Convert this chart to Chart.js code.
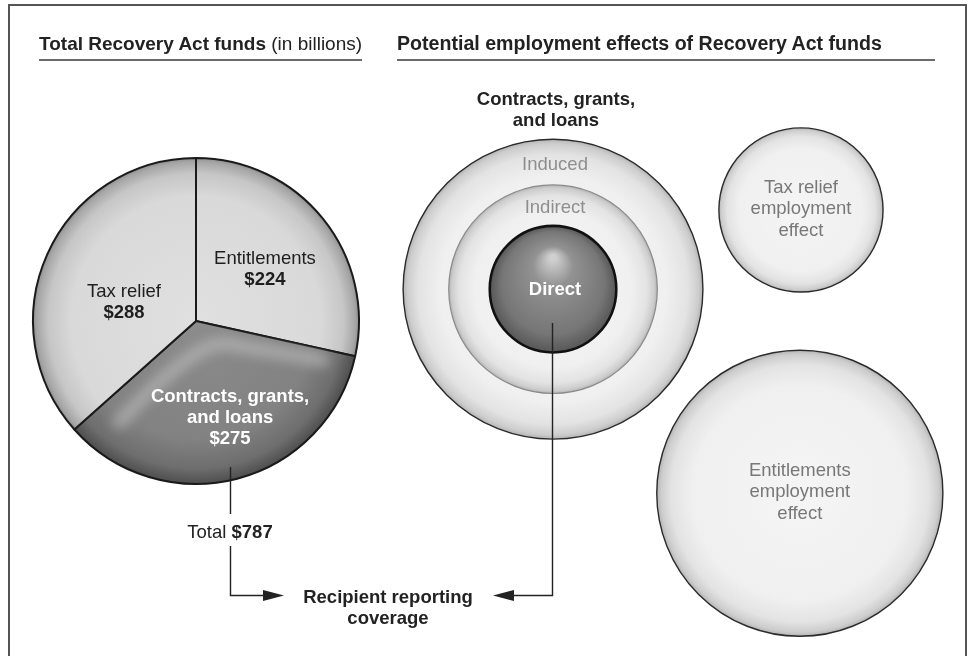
<!DOCTYPE html>
<html>
<head>
<meta charset="utf-8">
<script src="https://cdn.jsdelivr.net/npm/chart.js@4.4.1/dist/chart.umd.min.js"></script>
<style>
  html, body { margin: 0; padding: 0; background: #fff; }
  body { font-family: "Liberation Sans", Arial, Helvetica, sans-serif; color: #222; }
  #wrap { position: relative; width: 972px; height: 656px; overflow: hidden; background: #fff; }
  #frame { position: absolute; left: 8px; top: 4px; width: 959px; height: 700px;
           border: 2px solid #555; border-bottom: none; box-sizing: border-box; }
  canvas, svg { position: absolute; left: 0; top: 0; }
  .t { position: absolute; white-space: nowrap; font-size: 18.5px; line-height: 21px; }
  .c { transform: translate(-50%, -50%); text-align: center; }
  .rule { position: absolute; height: 2px; background: #6a6a6a; top: 59px; }
</style>
</head>
<body>
<div id="wrap">
  <div id="frame"></div>
  <canvas id="effectChart" width="972" height="656" style="z-index:1"></canvas>
  <canvas id="fundChart" width="972" height="656" style="z-index:2"></canvas>
  <svg width="972" height="656" style="z-index:3">
    <g stroke="#222" stroke-width="1.4" fill="none">
      <path d="M230.5 467 V514"/>
      <path d="M230.5 546 V595.5 H268"/>
      <path d="M552.5 323 V595.5 H508"/>
    </g>
    <polygon points="284,595.5 263,590 263,601" fill="#222"/>
    <polygon points="493,595.5 514,590 514,601" fill="#222"/>
  </svg>
  <div style="position:absolute;left:0;top:0;width:972px;height:656px;z-index:4">
    <div class="t" style="left:39px;top:33px;font-size:19px"><b>Total Recovery Act funds</b> (in billions)</div>
    <div class="rule" style="left:39px;width:323px"></div>
    <div class="t" style="left:397px;top:33px;font-size:19.6px"><b>Potential employment effects of Recovery Act funds</b></div>
    <div class="rule" style="left:397px;width:538px"></div>
    <div class="t c" style="left:556px;top:109px"><b>Contracts, grants,<br>and loans</b></div>
    <div class="t c" style="left:230px;top:531px" id="totalLabel"></div>
    <div class="t c" style="left:388px;top:607px"><b>Recipient reporting<br>coverage</b></div>
  </div>
</div>
<script>
// Recovery Act funds, billions of dollars
const fundCategories = [['Entitlements'], ['Contracts, grants,', 'and loans'], ['Tax relief']];
const fundValues = [224, 275, 288];

// employment effect circles (schematic, relative units)
const effectLabels = [['Induced'], ['Indirect'], ['Direct'], ['Tax relief', 'employment', 'effect'], ['Entitlements', 'employment', 'effect']];
const effectX = [28.6, 28.6, 28.6, 72.1, 71.9];
const effectY = [63.3, 63.3, 63.3, 77.2, 27.5];
const effectSize = [26.3, 18.3, 11.1, 14.4, 25.1];

const FONT = '"Liberation Sans", Arial, Helvetica, sans-serif';

const total = fundValues.reduce((a, b) => a + b, 0);
document.getElementById('totalLabel').innerHTML = 'Total <b>$' + total + '</b>';

// where the slice text sits, relative to pie centre in radius units
const labelOffset = [[0.423, -0.319], [0.209, 0.595], [-0.442, -0.117]];

function pieFill(ctx) {
  const chart = ctx.chart;
  const a = chart.chartArea;
  if (!a) return '#ccc';
  const cx = (a.left + a.right) / 2, cy = (a.top + a.bottom) / 2;
  const r = Math.min(a.right - a.left, a.bottom - a.top) / 2;
  const g = chart.ctx.createRadialGradient(cx, cy, 0, cx, cy, r);
  if (ctx.dataIndex === 1) {
    g.addColorStop(0, '#8c8c8c');
    g.addColorStop(0.72, '#828282');
    g.addColorStop(0.9, '#6e6e6e');
    g.addColorStop(1, '#4c4c4c');
  } else {
    g.addColorStop(0, '#e0e0e0');
    g.addColorStop(0.76, '#d9d9d9');
    g.addColorStop(0.9, '#c6c6c6');
    g.addColorStop(0.97, '#a6a6a6');
    g.addColorStop(1, '#8a8a8a');
  }
  return g;
}

const pieGloss = {
  id: 'pieGloss',
  afterDatasetsDraw(chart) {
    const arc = chart.getDatasetMeta(0).data[1];
    if (!arc) return;
    const c = chart.ctx, r = arc.outerRadius, x = arc.x, y = arc.y;
    c.save();
    c.beginPath();
    c.moveTo(x, y);
    c.arc(x, y, r - 2, arc.startAngle, arc.endAngle);
    c.closePath();
    c.clip();
    c.filter = 'blur(6px)';
    c.strokeStyle = 'rgba(190,190,190,0.6)';
    c.lineWidth = 14;
    c.lineCap = 'round';
    c.lineJoin = 'round';
    c.beginPath();
    c.moveTo(x - 0.47 * r, y + 0.62 * r);
    c.quadraticCurveTo(x + 0.02 * r, y + 0.1 * r, x + 0.2 * r, y + 0.14 * r);
    c.lineTo(x + 0.78 * r, y + 0.24 * r);
    c.stroke();
    c.restore();
  }
};

const pieLabels = {
  id: 'pieLabels',
  afterDatasetsDraw(chart) {
    const meta = chart.getDatasetMeta(0);
    const c = chart.ctx;
    c.save();
    c.textAlign = 'center';
    c.textBaseline = 'middle';
    meta.data.forEach((arc, i) => {
      const r = arc.outerRadius;
      const px = arc.x + labelOffset[i][0] * r;
      const py = arc.y + labelOffset[i][1] * r;
      const dark = i === 1;
      const lines = fundCategories[i].map(s => ({ text: s, bold: dark }));
      lines.push({ text: '$' + fundValues[i], bold: true });
      const step = 21;
      lines.forEach((ln, k) => {
        c.font = (ln.bold ? 'bold ' : '') + '18.5px ' + FONT;
        c.fillStyle = dark ? '#ffffff' : '#1e1e1e';
        c.fillText(ln.text, px, py + (k - (lines.length - 1) / 2) * step);
      });
    });
    c.restore();
  }
};

new Chart(document.getElementById('fundChart'), {
  type: 'pie',
  data: {
    labels: fundCategories,
    datasets: [{
      data: fundValues,
      backgroundColor: pieFill,
      borderColor: '#1a1a1a',
      borderWidth: 2
    }]
  },
  options: {
    responsive: false,
    animation: false,
    events: [],
    devicePixelRatio: 1,
    layout: { padding: { left: 32, top: 157, right: 612, bottom: 171 } },
    plugins: { legend: { display: false }, tooltip: { enabled: false } }
  },
  plugins: [pieGloss, pieLabels]
});

// bubble look
function unitPx(chart) {
  const s = chart.scales.x;
  return s.getPixelForValue(1) - s.getPixelForValue(0);
}

function bubbleFill(ctx) {
  const chart = ctx.chart;
  if (!chart.chartArea || !chart.scales.x) return '#eee';
  const i = ctx.dataIndex;
  const cx = chart.scales.x.getPixelForValue(effectX[i]);
  const cy = chart.scales.y.getPixelForValue(effectY[i]);
  const r = effectSize[i] * unitPx(chart);
  if (!isFinite(cx) || !isFinite(cy) || !(r > 0)) return '#eee';
  let g;
  if (i === 2) {
    g = chart.ctx.createRadialGradient(cx, cy - 0.5 * r, 0.05 * r, cx, cy, r);
    g.addColorStop(0, '#cfcfcf');
    g.addColorStop(0.28, '#929292');
    g.addColorStop(0.8, '#767676');
    g.addColorStop(1, '#575757');
  } else {
    g = chart.ctx.createRadialGradient(cx, cy, 0, cx, cy, r);
    g.addColorStop(0, '#f5f5f5');
    g.addColorStop(0.75, '#f0f0f0');
    g.addColorStop(0.9, '#e3e3e3');
    g.addColorStop(0.97, '#cdcdcd');
    g.addColorStop(1, '#b4b4b4');
  }
  return g;
}

const effectText = {
  id: 'effectText',
  afterDatasetsDraw(chart) {
    const meta = chart.getDatasetMeta(0);
    const c = chart.ctx;
    const u = unitPx(chart);
    c.save();
    c.textAlign = 'center';
    c.textBaseline = 'middle';
    meta.data.forEach((pt, i) => {
      const lines = effectLabels[i];
      if (i < 2) {
        // ring labels sit in the band between this ring and the next one in
        const r1 = effectSize[i] * u, r2 = effectSize[i + 1] * u;
        c.font = '18.5px ' + FONT;
        c.fillStyle = '#8e8e8e';
        c.fillText(lines[0], pt.x + 2, pt.y - (r1 + r2) / 2 + 3);
      } else if (i === 2) {
        c.font = 'bold 18.5px ' + FONT;
        c.fillStyle = '#ffffff';
        c.fillText(lines[0], pt.x + 2, pt.y + 1);
      } else {
        c.font = '18.5px ' + FONT;
        c.fillStyle = '#787878';
        lines.forEach((s, k) => c.fillText(s, pt.x, pt.y + (k - 1) * 21.5 - 1));
      }
    });
    c.restore();
  }
};

const effectChart = new Chart(document.getElementById('effectChart'), {
  type: 'bubble',
  data: {
    datasets: [{
      data: effectX.map((x, i) => ({ x: x, y: effectY[i] })),
      backgroundColor: bubbleFill,
      borderColor: ctx => [ '#2a2a2a', '#8a8a8a', '#111111', '#2a2a2a', '#2a2a2a' ][ctx.dataIndex],
      borderWidth: ctx => [1.4, 1.2, 2.6, 1.4, 1.4][ctx.dataIndex],
      clip: false
    }]
  },
  options: {
    responsive: false,
    animation: false,
    events: [],
    devicePixelRatio: 1,
    layout: { autoPadding: false, padding: { left: 390, top: 80, right: 12, bottom: 6 } },
    scales: {
      x: { type: 'linear', min: 0, max: 100, display: false },
      y: { type: 'linear', min: 0, max: 100, display: false }
    },
    plugins: { legend: { display: false }, tooltip: { enabled: false } }
  },
  plugins: [effectText]
});

// bubble radius has to be in pixels, so convert the sizes once the scale exists
const u = unitPx(effectChart);
effectChart.data.datasets[0].data.forEach((d, i) => { d.r = effectSize[i] * u; });
effectChart.update();
</script>
</body>
</html>
